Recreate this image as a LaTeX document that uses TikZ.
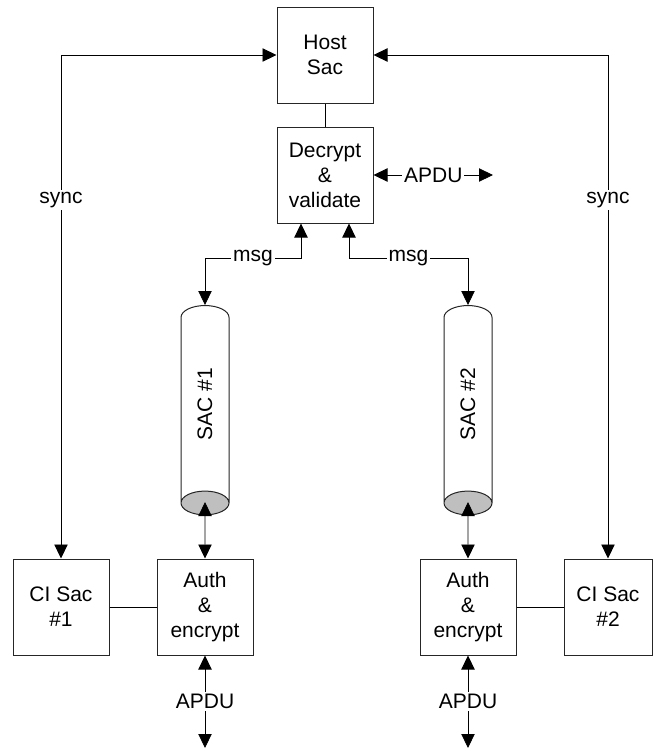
\documentclass[tikz,border=0pt]{standalone}
\usepackage{fontspec}
\setmainfont{Liberation Sans}
\usetikzlibrary{arrows.meta,shapes.geometric}

\begin{document}
\begin{tikzpicture}[x=0.75pt,y=-0.75pt,
  font=\fontsize{15.75}{18.75}\selectfont,
  box/.style={draw=black!85,line width=.75pt,minimum width=72pt,minimum height=72pt,align=center,inner sep=0pt},
  sac/.style={cylinder,shape border rotate=270,aspect=1.6,draw=black!85,line width=.75pt,
    minimum width=36pt,minimum height=157pt,inner sep=0pt,
    cylinder uses custom fill,cylinder body fill=white,cylinder end fill=gray!50},
  arr/.style={line width=.6pt,{Triangle[length=10.5pt,width=10pt]}-{Triangle[length=10.5pt,width=10pt]}},
  lbl/.style={fill=white,inner sep=1.5pt}]
  \useasboundingbox (0,0) rectangle (654,751);

  % Boxes
  \node[box] (host) at (325,55) {Host\\Sac};
  \node[box] (decrypt) at (325,175) {Decrypt\\\&\\validate};
  \node[box] (auth1) at (205,607) {Auth\\\&\\encrypt};
  \node[box] (auth2) at (468,607) {Auth\\\&\\encrypt};
  \node[box] (ci1) at (61,607) {CI Sac\\\#1};
  \node[box,minimum width=66pt] (ci2) at (608,607) {CI Sac\\\#2};

  % Secure channels
  \node[sac] (sac1) at (205,404) {\rotatebox{90}{SAC \#1}};
  \node[sac] (sac2) at (468,404) {\rotatebox{90}{SAC \#2}};

  % Free ends
  \coordinate (apdu0) at (493,175);
  \coordinate (apdu1) at (205,748);
  \coordinate (apdu2) at (468,748);

  % Plain links
  \draw[line width=.75pt] (host) -- (decrypt);
  \draw[line width=.75pt] (ci1) -- (auth1);
  \draw[line width=.75pt] (auth2) -- (ci2);

  % Arrows
  \draw[arr] (host.west) -| node[lbl,pos=.644]{sync} (ci1.north);
  \draw[arr] (host.east) -| node[lbl,pos=.644]{sync} (ci2.north);
  \draw[arr] (decrypt.east) -- node[lbl]{APDU} (apdu0);
  \draw[arr] ([xshift=-18pt]decrypt.south) -- ++(0,35) -| node[lbl,pos=.25]{msg} (sac1.north);
  \draw[arr] ([xshift=18pt]decrypt.south) -- ++(0,35) -| node[lbl,pos=.25]{msg} (sac2.north);
  \draw[arr] ([yshift=10pt]sac1.south) -- (auth1.north);
  \draw[arr] ([yshift=10pt]sac2.south) -- (auth2.north);
  \draw[arr] (auth1.south) -- node[lbl]{APDU} (apdu1);
  \draw[arr] (auth2.south) -- node[lbl]{APDU} (apdu2);
\end{tikzpicture}
\end{document}
